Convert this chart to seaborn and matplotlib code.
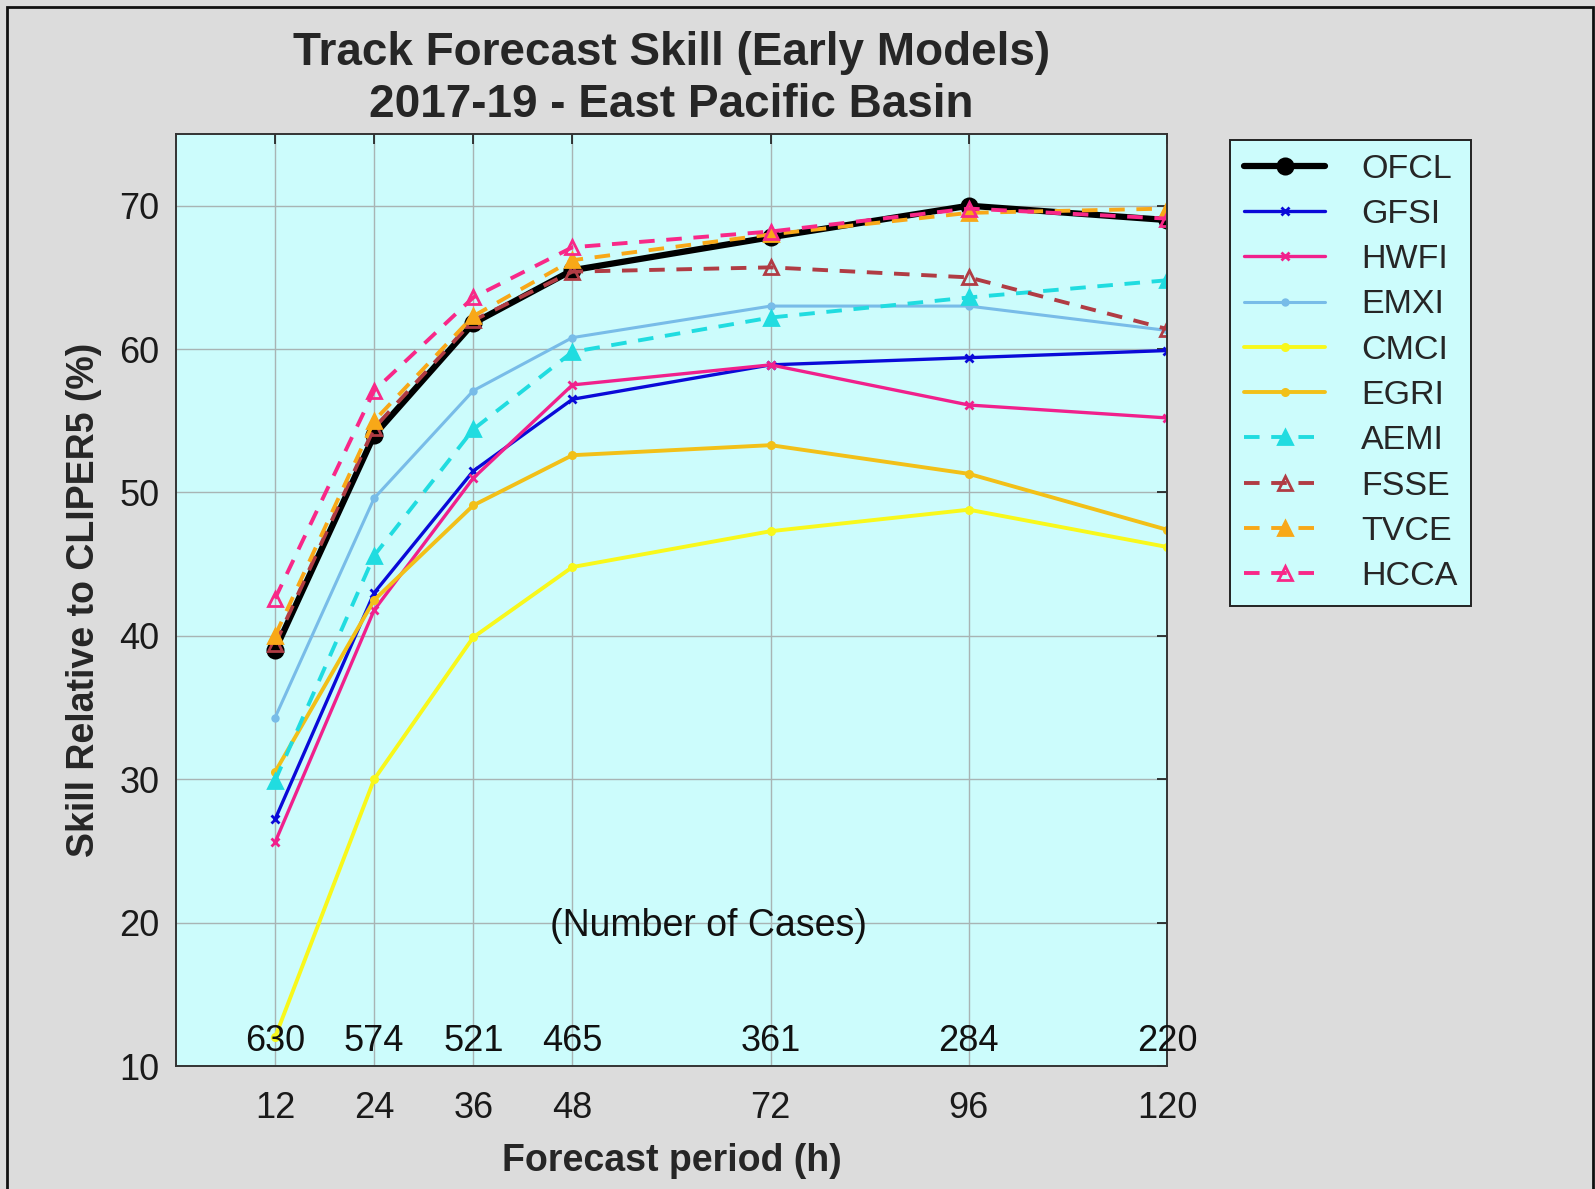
import matplotlib
matplotlib.use("Agg")
import matplotlib.pyplot as plt
import seaborn as sns
import pandas as pd
from matplotlib.patches import Rectangle

hours = [12, 24, 36, 48, 72, 96, 120]
cases = [630, 574, 521, 465, 361, 284, 220]

OFCL = [39.0, 54.0, 61.8, 65.5, 67.8, 70.0, 69.0]
GFSI = [27.2, 43.0, 51.5, 56.5, 58.9, 59.4, 59.9]
HWFI = [25.6, 41.8, 51.0, 57.5, 58.9, 56.1, 55.2]
EMXI = [34.3, 49.6, 57.1, 60.8, 63.0, 63.0, 61.3]
CMCI = [12.0, 30.0, 39.9, 44.8, 47.3, 48.8, 46.2]
EGRI = [30.5, 42.5, 49.1, 52.6, 53.3, 51.3, 47.4]
AEMI = [29.9, 45.6, 54.4, 59.8, 62.2, 63.6, 64.8]
FSSE = [39.4, 54.5, 62.0, 65.4, 65.7, 65.0, 61.4]
TVCE = [40.0, 55.0, 62.3, 66.2, 68.0, 69.5, 69.8]
HCCA = [42.6, 57.1, 63.6, 67.1, 68.2, 69.8, 69.1]

models = ["OFCL", "GFSI", "HWFI", "EMXI", "CMCI", "EGRI", "AEMI", "FSSE", "TVCE", "HCCA"]
values = [OFCL, GFSI, HWFI, EMXI, CMCI, EGRI, AEMI, FSSE, TVCE, HCCA]

rows = []
for m, v in zip(models, values):
    for h, y in zip(hours, v):
        rows.append({"model": m, "hour": h, "skill": y})
df = pd.DataFrame(rows)

dash = (0, (4, 3))
styles = {
    "OFCL": dict(color="#000000", lw=4.5, ls="-", marker="o", ms=11, mfc="#000000"),
    "GFSI": dict(color="#0a0ad8", lw=2.4, ls="-", marker="x", ms=6, mfc="#0a0ad8"),
    "HWFI": dict(color="#f0208c", lw=2.4, ls="-", marker="x", ms=6, mfc="#f0208c"),
    "EMXI": dict(color="#78bce8", lw=2.2, ls="-", marker=".", ms=8, mfc="#78bce8"),
    "CMCI": dict(color="#f8f81c", lw=2.8, ls="-", marker=".", ms=9, mfc="#f8f81c"),
    "EGRI": dict(color="#f2c018", lw=2.8, ls="-", marker=".", ms=9, mfc="#f2c018"),
    "AEMI": dict(color="#20dce0", lw=2.8, ls=dash, marker="^", ms=10, mfc="#20dce0"),
    "FSSE": dict(color="#b03c44", lw=2.8, ls=dash, marker="^", ms=10, mfc="none"),
    "TVCE": dict(color="#f8a818", lw=2.8, ls=dash, marker="^", ms=10, mfc="#f8a818"),
    "HCCA": dict(color="#f82888", lw=2.8, ls=dash, marker="^", ms=10, mfc="none"),
}

sns.set_style("white")
plt.rcParams["font.family"] = ["Liberation Sans", "DejaVu Sans"]

fig = plt.figure(figsize=(15.95, 11.89), dpi=100)
fig.patch.set_facecolor("#dcdcdc")
ax = fig.add_axes([0.1103, 0.1034, 0.6214, 0.7839])
ax.set_facecolor("#ccfcfc")

for m in models:
    s = styles[m]
    sub = df[df["model"] == m]
    sns.lineplot(data=sub, x="hour", y="skill", ax=ax, label=m,
                 color=s["color"], linewidth=s["lw"], linestyle=s["ls"],
                 marker=s["marker"], markersize=s["ms"],
                 markerfacecolor=s["mfc"], markeredgecolor=s["color"],
                 markeredgewidth=2, estimator=None, errorbar=None)

ax.set_xlim(0, 120)
ax.set_ylim(10, 75)
ax.set_xticks(hours)
ax.set_yticks([10, 20, 30, 40, 50, 60, 70])
ax.grid(True, color="#a8b4b4", linewidth=1.0)
ax.tick_params(axis="both", direction="in", top=True, right=True, length=7,
               width=1.2, labelsize=26, colors="#1a1a1a")
ax.tick_params(axis="x", pad=18)
ax.tick_params(axis="y", pad=12)
for sp in ax.spines.values():
    sp.set_color("#333333")
    sp.set_linewidth(1.4)

for h, c in zip(hours, cases):
    ax.text(h, 11.7, str(c), ha="center", va="center", fontsize=26, color="#111111", zorder=10)
ax.text(64.5, 19.8, "(Number of Cases)", ha="center", va="center", fontsize=27, color="#111111", zorder=10)

ax.set_xlabel("Forecast period (h)", fontsize=27, fontweight="bold", labelpad=12)
ax.set_ylabel("Skill Relative to CLIPER5 (%)", fontsize=27, fontweight="bold", labelpad=12)
ax.set_title("Track Forecast Skill (Early Models)\n2017-19 - East Pacific Basin",
             fontsize=33, fontweight="bold", pad=12, linespacing=1.25)

leg = ax.legend(loc="upper left", bbox_to_anchor=(0.7712, 0.8823), bbox_transform=fig.transFigure,
                fontsize=24.5, frameon=True, fancybox=False, handlelength=2.4,
                labelspacing=0.42, borderpad=0.4, handletextpad=1.05, borderaxespad=0)
leg.get_frame().set_facecolor("#ccfcfc")
leg.get_frame().set_edgecolor("#222222")
leg.get_frame().set_linewidth(1.4)
leg.get_frame().set_alpha(1)

fig.patches.append(Rectangle((0.0045, -0.01), 0.9945, 1.0045, transform=fig.transFigure,
                             fill=False, edgecolor="#111111", linewidth=2.0))

fig.savefig("out.png", dpi=100, facecolor=fig.get_facecolor())
